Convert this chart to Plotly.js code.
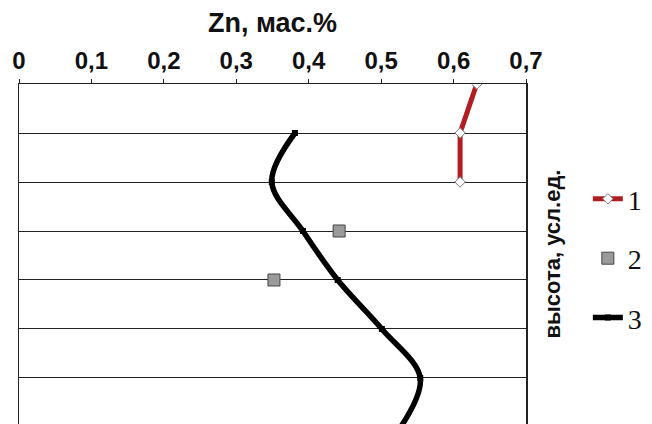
<!DOCTYPE html>
<html>
<head>
<meta charset="utf-8">
<script src="https://cdn.plot.ly/plotly-3.0.1.min.js"></script>
<style>html,body{margin:0;padding:0;background:#fff;}#chart{width:652px;height:424px;}</style>
</head>
<body>
<div id="chart"></div>
<script>
// Heights (conventional units) and Zn content, wt.%
const s1Height = [7, 6, 5];
const s1Zn = [0.632, 0.609, 0.609];
const s2Height = [4, 3];
const s2Zn = [0.442, 0.352];
const s3Height = [6, 5, 4, 3, 2, 1, 0];
const s3Zn = [0.381, 0.349, 0.392, 0.440, 0.501, 0.554, 0.527];
const seriesNames = ['1', '2', '3'];
const xTickVals = [0, 0.1, 0.2, 0.3, 0.4, 0.5, 0.6, 0.7];
const xTickText = ['0', '0,1', '0,2', '0,3', '0,4', '0,5', '0,6', '0,7'];

const traces = [
  {x: s1Zn, y: s1Height, name: seriesNames[0], legendgroup: 'a', mode: 'lines+markers',
   line: {color: '#b01e24', width: 5, shape: 'linear'},
   marker: {symbol: 'diamond', size: 8, color: '#ffffff', line: {color: '#777', width: 1}}},
  {x: s2Zn, y: s2Height, name: seriesNames[1], legendgroup: 'b', mode: 'markers',
   marker: {symbol: 'square', size: 12, color: '#9a9a9a', line: {color: '#444', width: 1}}},
  {x: s3Zn, y: s3Height, name: seriesNames[2], legendgroup: 'c', mode: 'lines+markers',
   line: {color: '#000', width: 5.5, shape: 'spline'},
   marker: {symbol: 'square', size: 6, color: '#000'}}
];

const layout = {
  width: 652, height: 424,
  margin: {l: 19, r: 126, t: 84, b: 0, pad: 0},
  paper_bgcolor: '#ffffff', plot_bgcolor: '#ffffff',
  showlegend: true,
  legend: {x: 1.122, xanchor: 'left', y: 0.735, yanchor: 'top', traceorder: 'grouped',
           tracegroupgap: 20, font: {family: 'Liberation Serif, Times New Roman, serif', size: 28, color: '#111'},
           bgcolor: 'rgba(0,0,0,0)', itemwidth: 30},
  xaxis: {side: 'top', range: [0, 0.7], tickvals: xTickVals, ticktext: xTickText,
          showgrid: false, zeroline: false, showline: true, linecolor: '#222', linewidth: 1.5,
          ticks: 'outside', ticklen: 4, tickcolor: '#222', tickwidth: 1,
          tickfont: {family: 'Arial, Liberation Sans, sans-serif', size: 24, color: '#111', weight: 'bold'},
          title: {text: 'Zn, мас.%', standoff: 6,
                  font: {family: 'Arial, Liberation Sans, sans-serif', size: 27, color: '#111', weight: 'bold'}}},
  yaxis: {side: 'right', range: [0.061, 7], dtick: 1, tick0: 0, showticklabels: false, ticks: '',
          showgrid: true, gridcolor: '#222', gridwidth: 1, zeroline: false,
          showline: true, mirror: true, linecolor: '#222', linewidth: 1.5,
          title: {text: 'высота, усл.ед.', standoff: 18,
                  font: {family: 'Arial, Liberation Sans, sans-serif', size: 22, color: '#111', weight: 'bold'}}}
};

Plotly.newPlot('chart', traces, layout, {displayModeBar: false, staticPlot: true});
</script>
</body>
</html>
